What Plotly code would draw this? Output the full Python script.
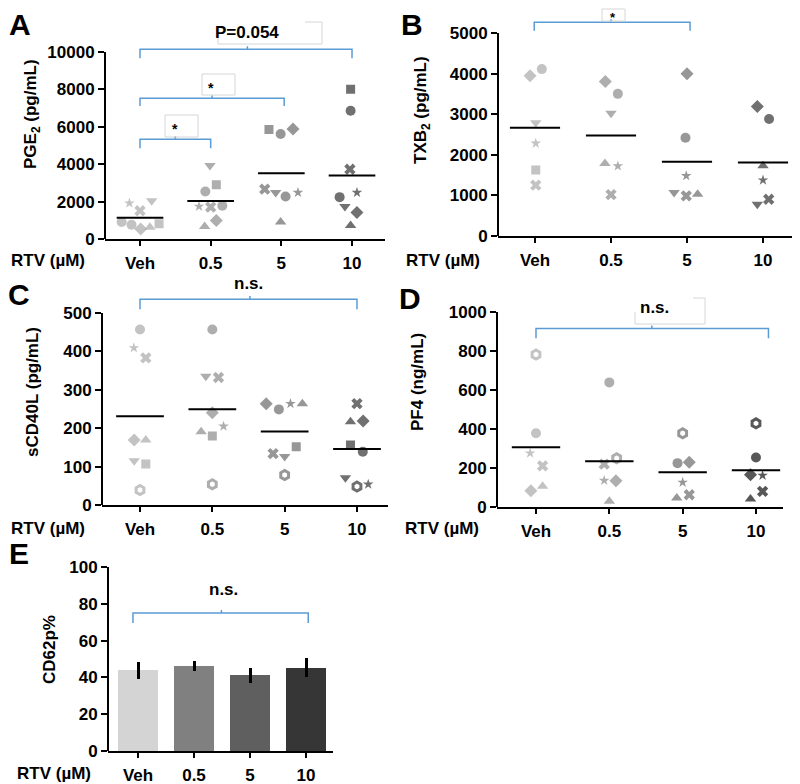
import plotly.graph_objects as go

# ---------------- DATA ----------------
CATEGORIES = ['Veh', '0.5', '5', '10']

# Panel A: PGE2 (pg/mL) — one value per donor, per group
A_SYMBOLS = ['square', 'circle', 'diamond', 'x', 'triangle-down', 'circle', 'star', 'triangle-up']
A_VEH = [817, 906, 533, 1510, 2043, 764, 1918, 622]
A_05 = [2895, 2540, 995, 1705, 3925, 1776, 1741, 675]
A_5 = [5861, 5613, 5879, 2664, 2487, 2274, 2487, 906]
A_10 = [8011, 6856, 1421, 3730, 1741, 2238, 2487, 728]
A_JITTER = [[0.27, -0.26, 0.01, 0.0, 0.165, -0.12, -0.15, 0.14],
            [0.08, -0.075, 0.08, 0.0, -0.01, 0.165, -0.165, -0.085],
            [-0.175, -0.01, 0.165, -0.235, -0.08, 0.06, 0.235, -0.01],
            [-0.02, -0.02, 0.07, -0.03, -0.1, -0.175, 0.07, -0.02]]
A_YTICKS = [0, 2000, 4000, 6000, 8000, 10000]

# Panel B: TXB2 (pg/mL)
B_SYMBOLS = ['diamond', 'circle', 'triangle-down', 'star', 'square', 'x', 'triangle-up']
B_VEH = [3946, 4111, 2792, 2282, 1623, 1252, None]
B_05 = [3806, 3501, 3023, 1722, None, 1021, 1788]
B_5 = [3995, 2422, 1071, 1483, None, 988, 1030]
B_10 = [3188, 2883, 783, 1376, None, 906, 1730]
B_JITTER = [[-0.065, 0.09, 0.01, 0.01, 0.01, 0.01, 0.0],
            [-0.075, 0.09, 0.0, 0.09, 0.0, 0.0, -0.08],
            [0.0, -0.02, -0.17, -0.01, 0.0, -0.01, 0.14],
            [-0.075, 0.08, -0.075, 0.0, 0.0, 0.075, 0.0]]
B_YTICKS = [0, 1000, 2000, 3000, 4000, 5000]

# Panel C: sCD40L (pg/mL)
C_SYMBOLS = ['circle', 'star', 'x', 'diamond', 'triangle-up', 'triangle-down', 'square', 'hexagon-open']
C_VEH = [457, 409, 383, 169, 169, 115, 107, 39]
C_05 = [457, 205, 332, 240, 191, 335, 180, 54]
C_5 = [249, 264, 134, 264, 264, 126, 152, 78]
C_10 = [139, 54, 264, 219, 217, 71, 156, 48]
C_JITTER = [[0.0, -0.085, 0.08, -0.08, 0.08, -0.08, 0.08, 0.0],
            [0.0, 0.155, 0.085, 0.0, -0.155, -0.09, 0.0, 0.0],
            [-0.08, 0.08, -0.16, -0.255, 0.245, 0.0, 0.16, 0.0],
            [0.08, 0.155, 0.0, 0.085, -0.09, -0.16, -0.09, 0.0]]
C_YTICKS = [0, 100, 200, 300, 400, 500]

# Panel D: PF4 (ng/mL)
D_SYMBOLS = ['hexagon-open', 'circle', 'star', 'x', 'diamond', 'triangle-up']
D_VEH = [782, 378, 276, 211, 83, 106]
D_05 = [250, 639, 136, 220, 135, 29]
D_5 = [378, 225, 126, 63, 230, 46]
D_10 = [429, 254, 162, 80, 165, 41]
D_JITTER = [[0.0, 0.0, -0.08, 0.09, -0.07, 0.09],
            [0.1, 0.0, -0.07, -0.07, 0.09, 0.0],
            [0.0, -0.07, 0.0, 0.09, 0.09, -0.08],
            [0.0, 0.0, 0.09, 0.09, -0.075, -0.075]]
D_YTICKS = [0, 200, 400, 600, 800, 1000]

# Panel E: CD62p% (mean ± error)
E_MEANS = [43.8, 46.2, 41.1, 45.3]
E_ERRORS = [4.7, 2.6, 4.2, 5.3]
E_YTICKS = [0, 20, 40, 60, 80, 100]

# ---------------- STYLE / LAYOUT ----------------
OFF = 8                      # page body margin in the browser
W, H = 800 - OFF, 784 - OFF  # figure size so it fills the window
FONT = "Arial, 'Liberation Sans', sans-serif"
FS = 17
BLUE = '#5b9bd5'
BOXGRAY = '#d6d6d6'


def fx(p):
    return (p - OFF) / W


def fy(p):
    return 1 - (p - OFF) / H


# geometry per panel (screen pixel positions of axes)
GEOM = {
    1: dict(xpx=(105, 385), c0=140, s=70.67, y0px=239, ppu=187 / 10000, ymax=10400, ytop=10000),
    2: dict(xpx=(498, 799), c0=535, s=76.0, y0px=236, ppu=203 / 5000, ymax=5450, ytop=5000),
    3: dict(xpx=(102, 388), c0=140, s=72.33, y0px=505, ppu=192 / 500, ymax=548, ytop=500),
    4: dict(xpx=(497, 783), c0=536, s=73.33, y0px=507, ppu=195 / 1000, ymax=1000, ytop=1000),
    5: dict(xpx=(108, 333), c0=138, s=56.0, y0px=751, ppu=184 / 100, ymax=100, ytop=100),
}

SIZES = {'circle': 10, 'square': 9, 'diamond': 10, 'x': 10, 'triangle-up': 10,
         'triangle-down': 10, 'star': 8, 'hexagon-open': 9}

fig = go.Figure()


def sfx(n):
    return '' if n == 1 else str(n)


def setup_axes(n, yticks):
    g = GEOM[n]
    xr = [(g['xpx'][0] - g['c0']) / g['s'], (g['xpx'][1] - g['c0']) / g['s']]
    ydom = [fy(g['y0px']), fy(g['y0px'] - g['ymax'] * g['ppu'])]
    tickfont = dict(family=FONT, size=FS, color='black', weight='bold')
    fig.update_layout(**{
        'xaxis' + sfx(n): dict(domain=[fx(g['xpx'][0]), fx(g['xpx'][1])], range=xr,
                               anchor='y' + sfx(n), tickvals=[0, 1, 2, 3], ticktext=CATEGORIES,
                               ticks='outside', ticklen=5, tickwidth=2, tickcolor='black',
                               showline=True, linewidth=2, linecolor='black', showgrid=False,
                               zeroline=False, tickfont=tickfont, ticklabelstandoff=3,
                               automargin=False, fixedrange=True),
        'yaxis' + sfx(n): dict(domain=ydom, range=[0, g['ymax']], anchor='x' + sfx(n),
                               tickvals=yticks, ticktext=[str(v) for v in yticks],
                               ticks='outside', ticklen=6, tickwidth=2, tickcolor='black',
                               showline=False, showgrid=False, zeroline=False,
                               tickfont=tickfont, automargin=False, fixedrange=True),
    })
    # y-axis line from 0 to top tick
    fig.add_shape(type='line', xref='paper', yref='y' + sfx(n),
                  x0=fx(g['xpx'][0]), x1=fx(g['xpx'][0]), y0=0, y1=g['ytop'],
                  line=dict(color='black', width=2))


def scatter_panel(n, symbols, groups, jitter, colors):
    for gi, vals in enumerate(groups):
        xs, ys, syms, sizes, lw = [], [], [], [], []
        for k, v in enumerate(vals):
            if v is None:
                continue
            xs.append(gi + jitter[gi][k])
            ys.append(v)
            syms.append(symbols[k])
            sizes.append(SIZES[symbols[k]])
            lw.append(3 if symbols[k].endswith('open') else 0)
        fig.add_trace(go.Scatter(
            x=xs, y=ys, mode='markers', xaxis='x' + sfx(n), yaxis='y' + sfx(n),
            marker=dict(symbol=syms, size=sizes, color=colors[gi],
                        line=dict(width=lw, color=colors[gi])),
            showlegend=False, hoverinfo='y'))
        present = [v for v in vals if v is not None]
        mean = sum(present) / len(present)
        fig.add_trace(go.Scatter(
            x=[gi - 0.33, gi + 0.33], y=[mean, mean], mode='lines',
            xaxis='x' + sfx(n), yaxis='y' + sfx(n),
            line=dict(color='black', width=2), showlegend=False, hoverinfo='skip'))


def bracket(n, x0, x1, ytop, ydrop, xc, tick):
    fig.add_shape(type='path', xref='x' + sfx(n), yref='y' + sfx(n),
                  path=f'M {x0},{ydrop} L {x0},{ytop} L {x1},{ytop} L {x1},{ydrop}',
                  line=dict(color=BLUE, width=1.5))
    fig.add_shape(type='line', xref='x' + sfx(n), yref='y' + sfx(n),
                  x0=xc, x1=xc, y0=ytop, y1=ytop + tick, line=dict(color=BLUE, width=1.5))


def text(px, py, s, size=FS, weight='bold', xanchor='center', angle=0):
    fig.add_annotation(x=fx(px), y=fy(py), xref='paper', yref='paper', text=s,
                       showarrow=False, xanchor=xanchor, yanchor='middle', textangle=angle,
                       font=dict(family=FONT, size=size, color='black', weight=weight))


def box(x0, y0, x1, y1):
    fig.add_shape(type='rect', xref='paper', yref='paper', x0=fx(x0), x1=fx(x1),
                  y0=fy(y0), y1=fy(y1), line=dict(color=BOXGRAY, width=1),
                  fillcolor='rgba(0,0,0,0)')


def pathbox(pts):
    d = 'M ' + ' L '.join(f'{fx(a)},{fy(b)}' for a, b in pts)
    fig.add_shape(type='path', xref='paper', yref='paper', path=d,
                  line=dict(color=BOXGRAY, width=1))


GREYS = ['#a9a9a9', '#8b8b8b', '#6b6b6b', '#333333']
GREYS_D = ['#a9a9a9', '#8b8b8b', '#6b6b6b', '#111111']

# Panel A
setup_axes(1, A_YTICKS)
scatter_panel(1, A_SYMBOLS, [A_VEH, A_05, A_5, A_10], A_JITTER, GREYS)
bracket(1, 0, 1, 5332, 4850, 0.5, 160)
bracket(1, 0, 2.04, 7524, 7112, 1.02, 160)
bracket(1, 0, 3, 10150, 9663, 1.52, 160)
box(165, 115, 198, 137)
text(175, 129, '*', size=14)
box(202, 74, 235, 95)
text(211, 88, '*', size=14)
pathbox([(305, 22), (322, 22), (322, 44), (218, 44), (218, 38)])
text(213, 32, 'P=0.054', xanchor='left')

# Panel B
setup_axes(2, B_YTICKS)
scatter_panel(2, B_SYMBOLS, [B_VEH, B_05, B_5, B_10], B_JITTER, GREYS)
bracket(2, -0.01, 2.04, 5263, 5057, 1.0, 74)
box(602, 9, 625, 21)
text(613, 18, '*', size=13)

# Panel C
setup_axes(3, C_YTICKS)
scatter_panel(3, C_SYMBOLS, [C_VEH, C_05, C_5, C_10], C_JITTER, GREYS)
bracket(3, 0, 3, 536, 510, 1.52, 8)
text(248, 283, 'n.s.')

# Panel D
setup_axes(4, D_YTICKS)
scatter_panel(4, D_SYMBOLS, [D_VEH, D_05, D_5, D_10], D_JITTER, GREYS_D)
bracket(4, 0, 3.17, 916, 865, 1.58, 15)
pathbox([(693, 298), (705, 298), (705, 324), (635, 324), (635, 312)])
text(654, 307, 'n.s.')

# Panel E
setup_axes(5, E_YTICKS)
fig.add_trace(go.Bar(
    x=[0, 1, 2, 3], y=E_MEANS, width=0.72, xaxis='x5', yaxis='y5',
    marker=dict(color=['#d4d4d4', '#808080', '#5f5f5f', '#363636'], line=dict(width=0)),
    error_y=dict(type='data', array=E_ERRORS, visible=True, color='black', thickness=3, width=0),
    showlegend=False))
bracket(5, -0.09, 3.04, 75, 69.6, 1.49, 1.6)
text(224, 589, 'n.s.')

# Axis titles
text(32, 114, 'PGE<sub>2</sub> (pg/mL)', angle=-90)
text(422, 110, 'TXB<sub>2</sub> (pg/mL)', angle=-90)
text(32, 392, 'sCD40L (pg/mL)', angle=-90)
text(417, 382, 'PF4 (ng/mL)', angle=-90)
text(49, 650, 'CD62p%', angle=-90)

# RTV labels
text(9, 261, 'RTV (µM)', xanchor='left')
text(404, 261, 'RTV (µM)', xanchor='left')
text(9, 528, 'RTV (µM)', xanchor='left')
text(403, 528, 'RTV (µM)', xanchor='left')
text(15, 773, 'RTV (µM)', xanchor='left')

# Panel letters
text(20, 24, 'A', size=30)
text(412, 24, 'B', size=30)
text(19, 294, 'C', size=30)
text(410, 298, 'D', size=30)
text(19, 553, 'E', size=30)

fig.update_layout(width=W, height=H, margin=dict(l=0, r=0, t=0, b=0),
                  plot_bgcolor='white', paper_bgcolor='white', showlegend=False,
                  font=dict(family=FONT), bargap=0)

fig.write_html('out.html')
